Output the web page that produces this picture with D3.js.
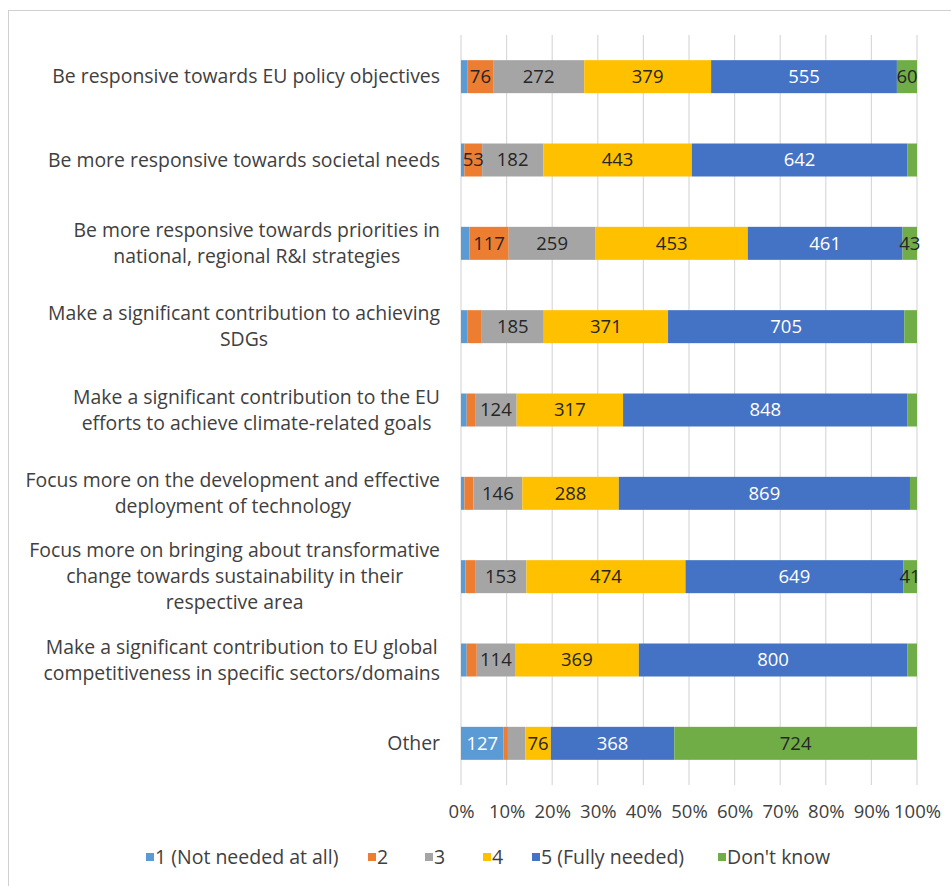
<!DOCTYPE html>
<html>
<head>
<meta charset="utf-8">
<script src="https://cdn.jsdelivr.net/npm/d3@7"></script>
<style>
  html, body { margin: 0; padding: 0; background: #fff; }
  svg { display: block; }
  text { font-family: "Open Sans", "Noto Sans", sans-serif; }
</style>
</head>
<body>
<svg id="chart" width="951" height="886"></svg>
<script>
// ---------- data ----------
const categories = [
  ["Be responsive towards EU policy objectives"],
  ["Be more responsive towards societal needs"],
  ["Be more responsive towards priorities in", "national, regional R&I strategies"],
  ["Make a significant contribution to achieving", "SDGs"],
  ["Make a significant contribution to the EU", "efforts to achieve climate-related goals"],
  ["Focus more on the development and effective", "deployment of technology"],
  ["Focus more on bringing about transformative", "change towards sustainability in their", "respective area"],
  ["Make a significant contribution to EU global", "competitiveness in specific sectors/domains"],
  ["Other"]
];
const seriesNames = ["1 (Not needed at all)", "2", "3", "4", "5 (Fully needed)", "Don't know"];
const s1 = [20, 10, 25, 20, 17, 10, 13, 17, 127];
const s2 = [76, 53, 117, 42, 25, 27, 29, 30, 13];
const s3 = [272, 182, 259, 185, 124, 146, 153, 114, 52];
const s4 = [379, 443, 453, 371, 317, 288, 474, 369, 76];
const s5 = [555, 642, 461, 705, 848, 869, 649, 800, 368];
const s6 = [60, 29, 43, 38, 28, 21, 41, 29, 724];
// which segments carry a data label (series index per category)
const labelled = [
  [1, 2, 3, 4, 5],
  [1, 2, 3, 4],
  [1, 2, 3, 4, 5],
  [2, 3, 4],
  [2, 3, 4],
  [2, 3, 4],
  [2, 3, 4, 5],
  [2, 3, 4],
  [0, 3, 4, 5]
];
const tickValues = [0, 0.1, 0.2, 0.3, 0.4, 0.5, 0.6, 0.7, 0.8, 0.9, 1.0];

// ---------- style ----------
const colors = ["#5B9BD5", "#ED7D31", "#A5A5A5", "#FFC000", "#4472C4", "#70AD47"];
const labelColors = ["#ffffff", "#262626", "#262626", "#262626", "#ffffff", "#262626"];

const svg = d3.select("#chart");

// frame
svg.append("rect").attr("x", 8.5).attr("y", 10.5).attr("width", 1000).attr("height", 1000)
  .attr("fill", "none").attr("stroke", "#d0d0d0").attr("stroke-width", 1);

const seriesArr = [s1, s2, s3, s4, s5, s6];
const rows = categories.map((c, i) => {
  const vals = seriesArr.map(s => s[i]);
  const total = d3.sum(vals);
  let acc = 0;
  return vals.map((v, k) => {
    const seg = { cat: i, k, v, x0: acc / total, x1: (acc + v) / total };
    acc += v;
    return seg;
  });
});

const x = d3.scaleLinear().domain([0, 1]).range([461, 917]);
const y = d3.scaleBand().domain(d3.range(categories.length)).range([35, 785])
  .paddingInner(0.604).paddingOuter(0.302);

// gridlines
svg.append("g").selectAll("line").data(tickValues).join("line")
  .attr("x1", d => x(d)).attr("x2", d => x(d))
  .attr("y1", 35).attr("y2", 785)
  .attr("stroke", "#d9d9d9").attr("stroke-width", 1.2);

// bars
const gBars = svg.append("g");
rows.forEach(r => {
  gBars.selectAll(null).data(r).join("rect")
    .attr("x", d => x(d.x0))
    .attr("width", d => x(d.x1) - x(d.x0))
    .attr("y", d => y(d.cat))
    .attr("height", y.bandwidth())
    .attr("fill", d => colors[d.k]);
});

// data labels
const gLab = svg.append("g");
rows.forEach((r, i) => {
  const segs = r.filter(d => labelled[i].includes(d.k));
  gLab.selectAll(null).data(segs).join("text")
    .attr("x", d => (x(d.x0) + x(d.x1)) / 2)
    .attr("y", d => y(d.cat) + y.bandwidth() / 2)
    .attr("dy", "0.35em")
    .attr("text-anchor", "middle")
    .attr("font-size", 18.5)
    .attr("fill", d => labelColors[d.k])
    .text(d => d.v);
});

// x axis tick labels
const xAxis = d3.axisBottom(x).tickValues(tickValues).tickFormat(d3.format(".0%")).tickSize(0).tickPadding(0);
const gx = svg.append("g").attr("transform", "translate(0,812)").call(xAxis);
gx.select(".domain").remove();
gx.selectAll("text").attr("dy", "0.35em").attr("font-size", 18.5).attr("fill", "#404040")
  .attr("font-family", "'Open Sans', sans-serif");

// category labels
const lineH = 26;
const gCat = svg.append("g");
categories.forEach((lines, i) => {
  const cy = y(i) + y.bandwidth() / 2;
  const t = gCat.append("text").attr("font-size", 19.4).attr("fill", "#404040").attr("text-anchor", "middle");
  const n = lines.length;
  const spans = lines.map((ln, j) => t.append("tspan").text(ln)
    .attr("y", cy + (j - (n - 1) / 2) * lineH).attr("dy", "0.35em"));
  const maxW = d3.max(spans, s => s.node().getComputedTextLength());
  spans.forEach(s => s.attr("x", 440 - maxW / 2));
});

// legend
const legendX = [146, 368, 425, 483, 532, 718];
const gLeg = svg.append("g");
seriesNames.forEach((name, k) => {
  gLeg.append("rect").attr("x", legendX[k]).attr("y", 853).attr("width", 8).attr("height", 8)
    .attr("fill", colors[k]);
  gLeg.append("text").attr("x", legendX[k] + 9).attr("y", 857).attr("dy", "0.35em")
    .attr("font-size", 19.5).attr("fill", "#404040").text(name);
});
</script>
</body>
</html>
